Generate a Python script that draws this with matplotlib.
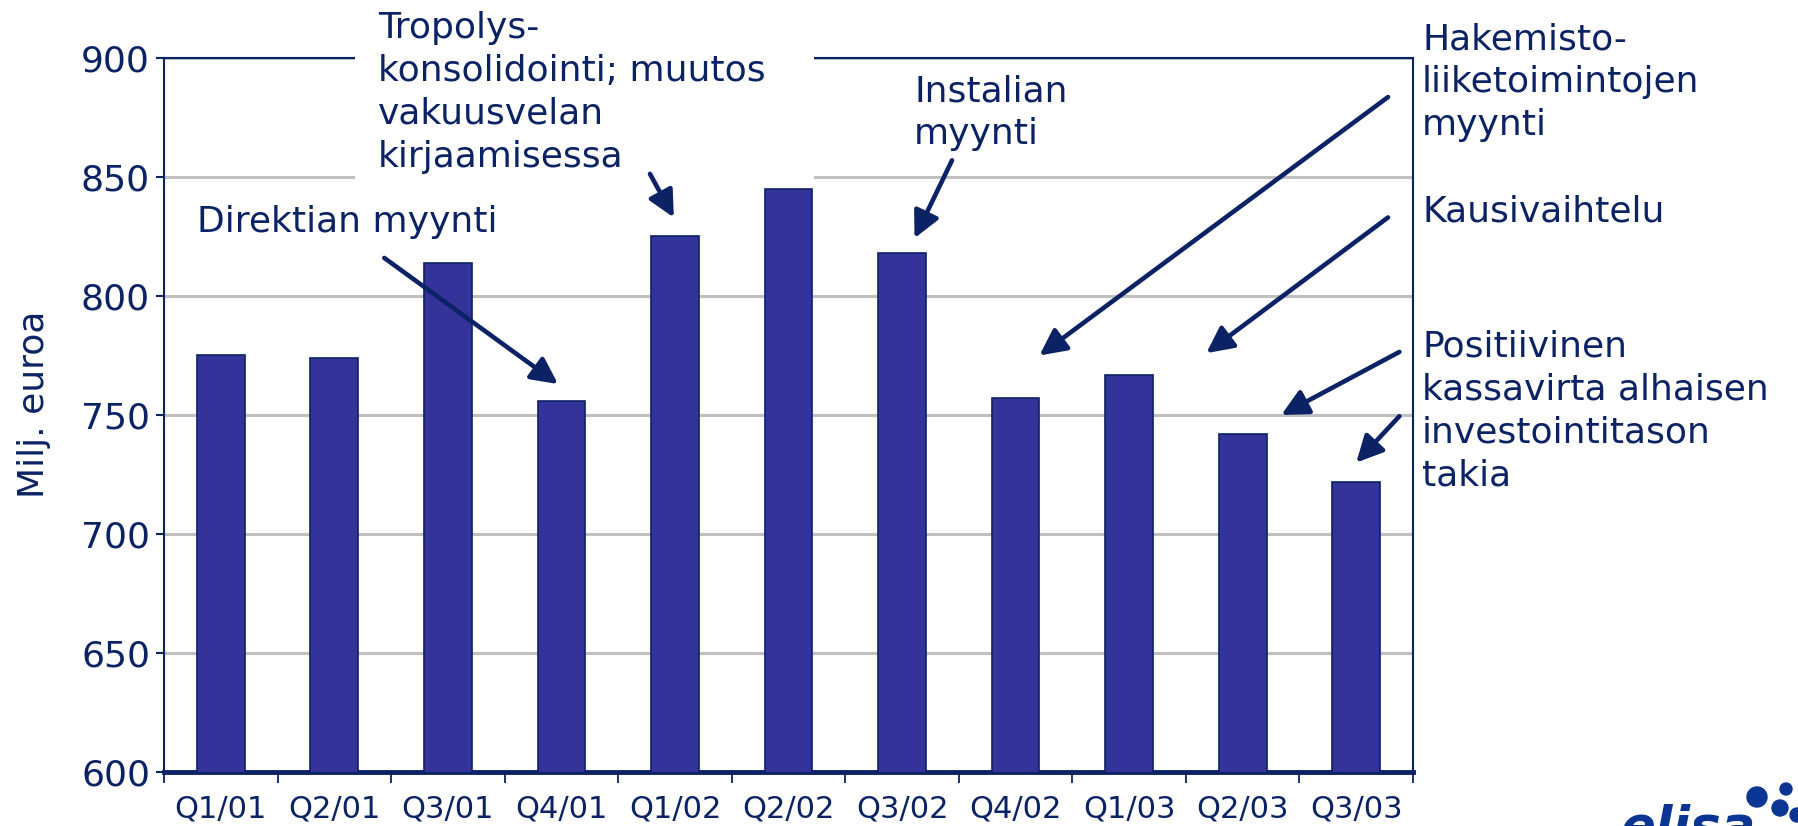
import matplotlib.pyplot as plt
import numpy as np
from matplotlib.patches import Rectangle, Circle

# data
quarters = ["Q1/01", "Q2/01", "Q3/01", "Q4/01", "Q1/02", "Q2/02",
            "Q3/02", "Q4/02", "Q1/03", "Q2/03", "Q3/03"]
revenue = [775, 774, 814, 756, 825, 845, 818, 757, 767, 742, 722]
y_ticks = [600, 650, 700, 750, 800, 850, 900]

note_texts = [
    "Direktian myynti",
    "Tropolys-\nkonsolidointi; muutos\nvakuusvelan\nkirjaamisessa",
    "Instalian\nmyynti",
    "Hakemisto-\nliiketoimintojen\nmyynti",
    "Kausivaihtelu",
    "Positiivinen\nkassavirta alhaisen\ninvestointitason\ntakia",
]
# text anchor (figure pixels, top-left)
note_pos = [(197, 205), (378, 11), (914, 74), (1422, 22), (1422, 194), (1422, 330)]

# arrows: (tail, tip) in data coordinates (category index, value)
arrows = [
    ((1.44, 816), (2.97, 763)),
    ((3.78, 851.3), (3.99, 833)),
    ((6.44, 857), (6.11, 824.3)),
    ((10.28, 883.6), (7.21, 775)),
    ((10.28, 833), (8.68, 776)),
    ((10.38, 776.5), (9.34, 750)),
    ((10.38, 749.5), (10.0, 730)),
]

navy = "#0b2265"
bar_color = "#333399"
W, H = 1798, 826

fig = plt.figure(figsize=(W / 100, H / 100), dpi=100)
ax = fig.add_axes([164 / W, 54 / H, 1249 / W, 714 / H])

x = np.arange(len(quarters))
ax.bar(x, revenue, width=0.42, color=bar_color, edgecolor=navy,
       linewidth=1.2, zorder=3)

ax.set_ylim(600, 900)
ax.set_xlim(-0.5, len(quarters) - 0.5)
ax.set_yticks(y_ticks)
ax.yaxis.grid(True, color="#c0c0c0", linewidth=2.2, zorder=0)
ax.set_axisbelow(True)

ax.set_xticks(x)
ax.set_xticklabels(quarters)
ax.set_xticks(np.arange(-0.5, len(quarters)), minor=True)
ax.tick_params(axis="x", which="major", length=0, labelsize=22,
               labelcolor=navy, pad=16)
ax.tick_params(axis="x", which="minor", length=8, width=1.3,
               color=navy, direction="out")
ax.tick_params(axis="y", length=6, width=1.5, color=navy,
               labelsize=26, labelcolor=navy, pad=4)

for side in ["left", "right", "top"]:
    ax.spines[side].set_color(navy)
    ax.spines[side].set_linewidth(1.5)
ax.spines["bottom"].set_color(navy)
ax.spines["bottom"].set_linewidth(3.5)

fig.text(34 / W, 1 - 404 / H, "Milj. euroa", rotation=90, ha="center",
         va="center", fontsize=26, color=navy)

# white box behind the Tropolys note
ax.add_patch(Rectangle((355 / W, 1 - 181 / H), 459 / W, 181 / H,
                       transform=fig.transFigure, facecolor="white",
                       edgecolor="none", clip_on=False, zorder=5))

for txt, (px, py) in zip(note_texts, note_pos):
    fig.text(px / W, 1 - py / H, txt, ha="left", va="top", fontsize=26,
             color=navy, linespacing=1.33)

for tail, tip in arrows:
    ax.annotate("", xy=tip, xytext=tail, annotation_clip=False,
                arrowprops=dict(arrowstyle="-|>,head_length=1.0,head_width=0.5",
                                mutation_scale=16, lw=3.3, color=navy,
                                shrinkA=0, shrinkB=0),
                zorder=6)

# partial logo in the corner
logo_blue = "#0a3592"
fig.text(1620 / W, -0.02, "elisa", fontsize=37, fontweight="bold",
         fontstyle="italic", color=logo_blue)
for cx, cy, r in [(1757, 797, 10), (1780, 808, 8), (1786, 789, 6), (1797, 815, 7)]:
    fig.add_artist(Circle((cx / 100, (H - cy) / 100), r / 100,
                          transform=fig.dpi_scale_trans, color=logo_blue))

fig.savefig("out.png", dpi=100)
